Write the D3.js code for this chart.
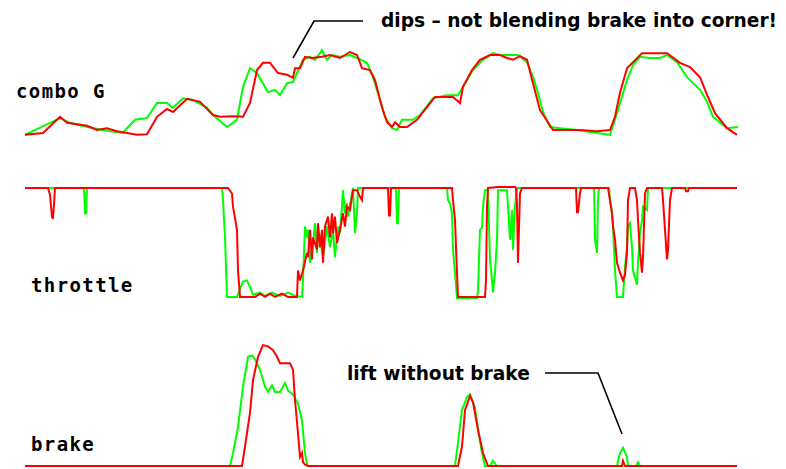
<!DOCTYPE html>
<html>
<head>
<meta charset="utf-8">
<script src="https://cdn.jsdelivr.net/npm/d3@7.9.0/dist/d3.min.js"></script>
<style>
  body { margin: 0; background: #fff; }
  svg { display: block; }
</style>
</head>
<body>
<div id="chart"></div>
<script>
// distance along the lap (0..712) and value, one pair per sample
const comboGreen = [[0,0.02],[35,0.30],[45,0.22],[62,0.15],[85,0.08],[98,0.05],[102,0.13],[110,0.27],[122,0.30],[132,0.55],[142,0.55],[148,0.47],[158,0.63],[168,0.60],[182,0.47],[188,0.35],[202,0.15],[212,0.27],[218,0.82],[225,1.13],[232,1.05],[243,0.73],[250,0.77],[255,0.68],[262,0.88],[268,0.90],[278,1.27],[285,1.32],[290,1.27],[297,1.43],[302,1.27],[307,1.35],[315,1.32],[325,1.35],[332,1.30],[342,1.22],[348,0.98],[355,0.60],[360,0.32],[367,0.13],[372,0.10],[377,0.27],[388,0.27],[395,0.35],[408,0.63],[422,0.68],[433,0.68],[442,0.93],[448,1.10],[458,1.27],[468,1.38],[475,1.35],[493,1.35],[502,1.23],[508,0.98],[513,0.72],[518,0.40],[525,0.15],[535,0.13],[552,0.10],[572,0.05],[585,0.02],[590,0.27],[595,0.55],[602,0.93],[608,1.18],[615,1.32],[625,1.30],[635,1.30],[642,1.35],[652,1.23],[662,0.98],[675,0.77],[682,0.57],[688,0.32],[702,0.13],[713,0.15]];
const comboRed = [[0,0.02],[18,0.05],[35,0.32],[42,0.22],[62,0.17],[72,0.10],[82,0.13],[92,0.08],[102,0.05],[112,0.02],[122,0.03],[132,0.32],[142,0.45],[148,0.40],[162,0.62],[175,0.57],[188,0.35],[195,0.32],[208,0.33],[218,0.32],[225,0.55],[232,1.10],[238,1.22],[245,1.22],[253,1.05],[262,1.02],[268,0.97],[270,1.13],[275,1.13],[280,1.32],[287,1.30],[297,1.32],[305,1.35],[315,1.30],[325,1.40],[332,1.35],[337,1.13],[345,1.10],[350,0.93],[357,0.48],[362,0.23],[367,0.15],[370,0.23],[375,0.15],[382,0.15],[392,0.27],[402,0.48],[410,0.65],[428,0.65],[435,0.55],[438,0.82],[447,1.10],[455,1.27],[465,1.35],[475,1.35],[482,1.30],[488,1.27],[495,1.33],[502,1.27],[508,0.88],[515,0.43],[523,0.23],[528,0.10],[555,0.10],[572,0.08],[585,0.10],[590,0.32],[595,0.72],[602,1.13],[608,1.23],[617,1.38],[642,1.38],[655,1.22],[665,1.15],[675,0.98],[683,0.65],[690,0.38],[702,0.13],[712,0.02]];

const throttleGreen = [[0,100],[59,100],[60,77],[61,77],[62,100],[197,100],[198,89],[200,55],[202,1],[212,1],[218,15],[222,16],[225,10],[228,3],[235,5],[240,2],[247,5],[255,2],[263,5],[270,2],[277,1],[278,16],[280,65],[282,55],[283,62],[285,32],[288,50],[290,68],[292,41],[293,62],[295,53],[298,37],[302,65],[305,46],[308,62],[310,37],[313,65],[315,59],[318,98],[320,77],[322,86],[323,74],[327,95],[328,100],[330,59],[332,77],[333,100],[371,100],[372,68],[373,68],[374,100],[422,100],[423,89],[425,86],[427,77],[428,44],[430,23],[432,0],[452,0],[453,7],[455,62],[457,64],[458,83],[460,98],[463,98],[465,35],[467,16],[468,5],[470,23],[472,53],[473,98],[482,98],[483,83],[485,53],[487,80],[488,44],[490,83],[492,100],[569,100],[570,53],[572,41],[573,89],[574,100],[584,100],[585,89],[587,77],[588,65],[590,25],[592,1],[598,1],[600,28],[602,46],[603,65],[605,68],[607,46],[608,25],[612,12],[613,32],[615,59],[617,71],[618,83],[622,80],[623,100],[712,100]];
const throttleRed = [[0,100],[23,100],[25,94],[27,74],[28,72],[29,85],[30,100],[203,100],[207,95],[208,83],[212,62],[213,25],[215,1],[230,1],[235,4],[240,1],[245,4],[250,1],[257,4],[263,1],[272,1],[273,25],[275,16],[278,25],[282,41],[283,37],[285,62],[287,35],[288,55],[292,44],[293,68],[295,46],[297,62],[298,32],[300,65],[303,74],[305,55],[307,77],[308,59],[310,74],[312,50],[315,62],[318,77],[320,65],[322,83],[325,80],[328,98],[332,98],[335,92],[337,89],[338,100],[363,100],[364,75],[365,75],[366,100],[427,100],[428,89],[430,71],[432,23],[433,1],[460,1],[461,16],[462,83],[463,100],[473,101],[490,101],[491,100],[492,86],[493,32],[495,95],[497,100],[551,100],[552,78],[553,78],[555,95],[556,100],[583,100],[585,89],[587,77],[588,65],[590,53],[592,32],[595,23],[598,16],[600,21],[602,41],[603,89],[605,100],[610,100],[612,89],[613,71],[615,41],[617,23],[618,37],[620,95],[622,100],[637,100],[638,89],[640,62],[642,35],[643,44],[645,89],[647,100],[660,100],[661,97],[663,97],[664,100],[712,100]];

const brakeGreen = [[0,0],[205,0],[208,10],[213,30],[218,61],[223,84],[227,85],[230,82],[235,74],[240,61],[243,57],[247,62],[250,57],[255,57],[260,64],[263,58],[268,55],[273,48],[277,35],[280,10],[282,1],[283,0],[430,0],[433,18],[437,43],[442,53],[445,55],[450,45],[453,28],[457,10],[460,0],[465,0],[468,4],[472,0],[592,0],[595,10],[598,14],[602,7],[603,0],[611,0],[613,3],[615,0],[712,0]];
const brakeRed = [[0,0],[217,0],[220,15],[225,41],[228,66],[233,84],[238,93],[243,92],[248,89],[252,84],[255,79],[265,79],[268,74],[270,51],[273,25],[275,7],[277,10],[278,3],[280,1],[283,0],[433,0],[437,15],[440,43],[445,54],[448,49],[453,28],[458,10],[463,0],[597,0],[598,4],[600,0],[712,0]];

const panelNames = ["combo G", "throttle", "brake"];

const width = 786, height = 469;

const svg = d3.select("#chart").append("svg")
    .attr("width", width)
    .attr("height", height);

const x = d3.scaleLinear().domain([0, 712]).range([25, 737]);

// each trace gets its own vertical band
const panels = [
    { name: panelNames[0], y: d3.scaleLinear().domain([0, 1.5]).range([136, 46]), green: comboGreen, red: comboRed, lx: 16, ly: 98 },
    { name: panelNames[1], y: d3.scaleLinear().domain([0, 100]).range([298, 188]), green: throttleGreen, red: throttleRed, lx: 31, ly: 292 },
    { name: panelNames[2], y: d3.scaleLinear().domain([0, 100]).range([466, 336]), green: brakeGreen, red: brakeRed, lx: 31, ly: 451 }
];

panels.forEach(p => {
    const line = d3.line()
        .x(d => x(d[0]))
        .y(d => p.y(d[1]));

    svg.append("path")
        .attr("d", line(p.green))
        .attr("fill", "none")
        .attr("stroke", "#00ff00")
        .attr("stroke-width", 2)
        .attr("stroke-linejoin", "miter");

    svg.append("path")
        .attr("d", line(p.red))
        .attr("fill", "none")
        .attr("stroke", "#ff0000")
        .attr("stroke-width", 2)
        .attr("stroke-linejoin", "miter");

    svg.append("text")
        .attr("x", p.lx)
        .attr("y", p.ly)
        .attr("font-family", "DejaVu Sans Mono")
        .attr("font-weight", "bold")
        .attr("font-size", "19px")
        .attr("letter-spacing", "1.4px")
        .attr("fill", "#000")
        .text(p.name);
});

// annotations
svg.append("path")
    .attr("d", "M293,58 L314,21 L363,21")
    .attr("fill", "none")
    .attr("stroke", "#000")
    .attr("stroke-width", 1.6);

svg.append("text")
    .attr("x", 381)
    .attr("y", 27)
    .attr("font-family", "DejaVu Sans")
    .attr("font-weight", "bold")
    .attr("font-size", "18.6px")
    .attr("fill", "#000")
    .text("dips \u2013 not blending brake into corner!");

svg.append("path")
    .attr("d", "M545,373 L598,373 L622,434")
    .attr("fill", "none")
    .attr("stroke", "#000")
    .attr("stroke-width", 1.6);

svg.append("text")
    .attr("x", 347)
    .attr("y", 380)
    .attr("font-family", "DejaVu Sans")
    .attr("font-weight", "bold")
    .attr("font-size", "18.6px")
    .attr("fill", "#000")
    .text("lift without brake");
</script>
</body>
</html>
